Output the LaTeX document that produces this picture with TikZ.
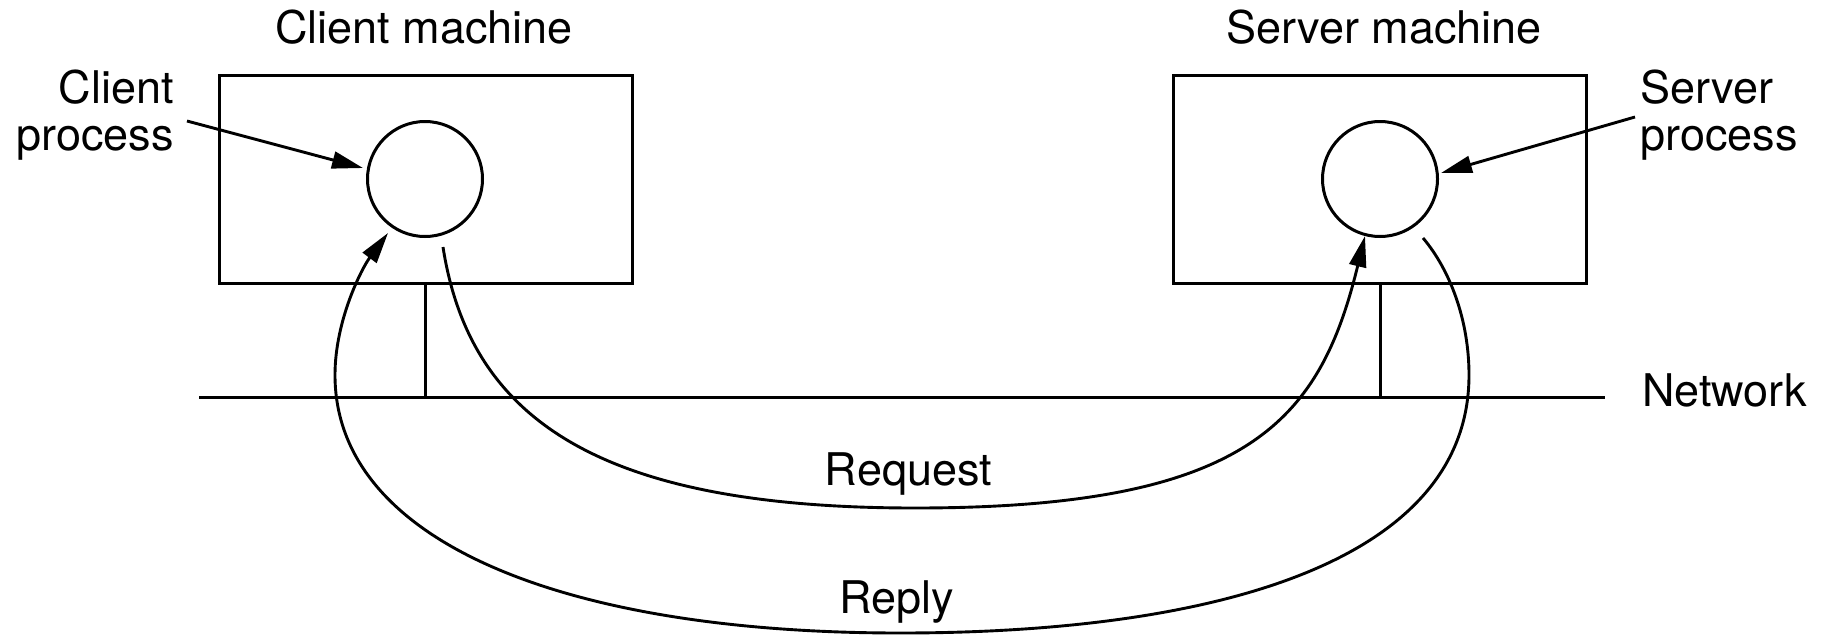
\documentclass[tikz,border=0pt]{standalone}
\usepackage{fontspec}
\setmainfont{TeX Gyre Heros}
\usetikzlibrary{arrows.meta}
\begin{document}
\begin{tikzpicture}[x=1pt,y=-1pt,
  lbl/.style={font=\fontsize{45}{47}\selectfont, inner sep=0pt},
  machine/.style={draw, line width=3pt, minimum width=413pt, minimum height=208pt, inner sep=0pt},
  proc/.style={draw, circle, line width=3pt, minimum size=115pt, inner sep=0pt},
  wire/.style={line width=3pt},
  arr/.style={line width=2.9pt, -{Triangle[length=31pt,width=17pt]}}]
\useasboundingbox (0,0) rectangle (1821,635);
% machines and processes
\node[machine] (cm) at (425.5,179) {};
\node[machine] (sm) at (1380,179) {};
\node[proc] (cp) at (425,179) {};
\node[proc] (sp) at (1380,179) {};
% titles
\node[lbl, anchor=base] (cmt) at (424,43) {Client machine};
\node[lbl, anchor=base] (smt) at (1384,43) {Server machine};
\node[lbl, anchor=base east, align=right] (cpl) at (174,150) {Client\\process};
\node[lbl, anchor=base west, align=left] (spl) at (1640,150) {Server\\process};
% network
\coordinate (netL) at (199,397);
\coordinate (netR) at (1605,397);
\draw[wire] (netL) -- (netR);
\node[lbl, anchor=base west] (net) at (1642,406) {Network};
\draw[wire] (cm.south) -- (cm.south |- netL);
\draw[wire] (sm.south) -- (sm.south |- netL);
% label arrows
\coordinate (cpA) at (187,121);
\coordinate (cpB) at (363,168);
\coordinate (spA) at (1635,117);
\coordinate (spB) at (1441,173);
\draw[arr] (cpA) -- (cpB);
\draw[arr] (spA) -- (spB);
% request
\coordinate (reqS) at (443,247);
\coordinate (reqT) at (1365,236);
\draw[arr] (reqS) .. controls (470,420) and (600,508) .. (915,508)
  .. controls (1250,508) and (1320,420) .. (reqT);
\node[lbl, anchor=base] (reqL) at (908.5,485) {Request};
% reply
\coordinate (repS) at (1423,238);
\coordinate (repT) at (388,233);
\draw[arr] (repS) .. controls (1450,270) and (1469,320) .. (1469,375)
  .. controls (1469,560) and (1220,633) .. (900,633)
  .. controls (560,633) and (335,540) .. (335,375)
  .. controls (335,320) and (362,268) .. (repT);
\node[lbl, anchor=base] (repL) at (896.5,613) {Reply};
\end{tikzpicture}
\end{document}
